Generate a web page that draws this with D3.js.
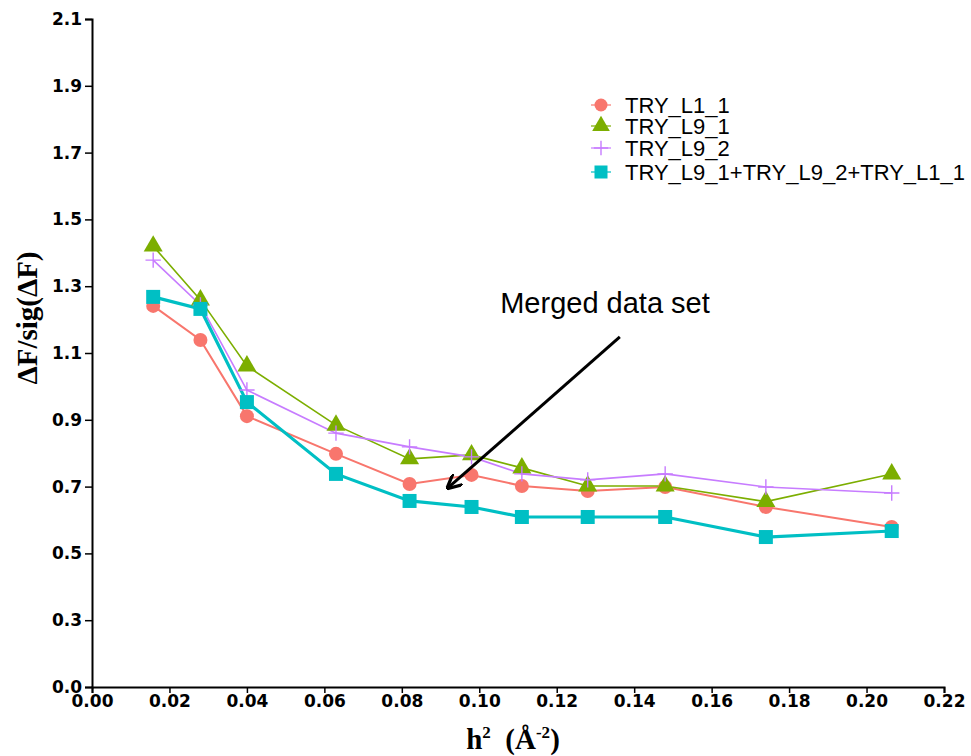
<!DOCTYPE html>
<html>
<head>
<meta charset="utf-8">
<script src="https://cdn.jsdelivr.net/npm/d3@7"></script>
<style>
    body { margin: 0; background: #fff; }
    .tick-lab { font-family: "DejaVu Sans", sans-serif; font-weight: bold; font-size: 17px; }
    .axis-title { font-family: "Liberation Serif", "Times New Roman", serif; font-weight: bold; font-size: 29px; }
    .legend-lab { font-family: Arial, "Liberation Sans", sans-serif; font-size: 22px; }
</style>
</head>
<body>
<div id="chart"></div>
<script>
// data
const h2 = [0.0158, 0.0280, 0.0400, 0.0630, 0.0820, 0.0980, 0.1110, 0.1280, 0.1480, 0.1740, 0.2065];
const tryL1_1 = [1.241, 1.139, 0.911, 0.798, 0.708, 0.735, 0.702, 0.687, 0.699, 0.639, 0.579];
const tryL9_1 = [1.420, 1.259, 1.061, 0.884, 0.783, 0.795, 0.756, 0.702, 0.702, 0.655, 0.738];
const tryL9_2 = [1.378, 1.244, 0.989, 0.860, 0.819, 0.789, 0.738, 0.720, 0.738, 0.699, 0.681];
const merged  = [1.268, 1.232, 0.953, 0.738, 0.657, 0.639, 0.609, 0.609, 0.609, 0.549, 0.567];

const seriesNames = ["TRY_L1_1", "TRY_L9_1", "TRY_L9_2", "TRY_L9_1+TRY_L9_2+TRY_L1_1"];
const xTicks = [0, 0.02, 0.04, 0.06, 0.08, 0.10, 0.12, 0.14, 0.16, 0.18, 0.20, 0.22];
const yTicks = [0.1, 0.3, 0.5, 0.7, 0.9, 1.1, 1.3, 1.5, 1.7, 1.9, 2.1];
const yTickLabels = ["0.0", "0.3", "0.5", "0.7", "0.9", "1.1", "1.3", "1.5", "1.7", "1.9", "2.1"];

// annotation arrow: [x, y] start and end in data units
const arrowFrom = [0.1363, 1.148];
const arrowTo = [0.0919, 0.696];
const arrowText = "Merged data set";

const series = [
    {name: seriesNames[0], values: tryL1_1, color: "#F8766D", width: 2, shape: "circle"},
    {name: seriesNames[1], values: tryL9_1, color: "#7CAE00", width: 1.6, shape: "triangle"},
    {name: seriesNames[2], values: tryL9_2, color: "#C77CFF", width: 1.6, shape: "plus"},
    {name: seriesNames[3], values: merged,  color: "#00BFC4", width: 3.2, shape: "square"}
];

const W = 971, H = 756;
const margin = {top: 19, right: 27, bottom: 69, left: 92};
const width = W - margin.left - margin.right;
const height = H - margin.top - margin.bottom;

const svg = d3.select("#chart").append("svg")
    .attr("width", W)
    .attr("height", H)
    .append("g")
    .attr("transform", `translate(${margin.left}, ${margin.top})`);

const x = d3.scaleLinear().domain([0, 0.22]).range([0, width]);
const y = d3.scaleLinear().domain([0.1, 2.1]).range([height, 0]);

// axes
const xAxis = d3.axisBottom(x).tickValues(xTicks).tickSize(6).tickPadding(2)
    .tickFormat(d3.format(".2f"));
const yAxis = d3.axisLeft(y).tickValues(yTicks).tickSize(7).tickPadding(3)
    .tickFormat((d, i) => yTickLabels[i]);

const gx = svg.append("g").attr("transform", `translate(0, ${height})`).call(xAxis);
const gy = svg.append("g").call(yAxis);

[gx, gy].forEach(g => {
    g.select(".domain").attr("stroke", "#000").attr("stroke-width", 2);
    g.selectAll(".tick line").attr("stroke", "#000").attr("stroke-width", 1.5);
    g.selectAll(".tick text").attr("class", "tick-lab").attr("fill", "#000");
});

// axis titles
const xt = svg.append("text")
    .attr("class", "axis-title")
    .attr("x", 421)
    .attr("y", height + 62)
    .attr("text-anchor", "middle");
xt.append("tspan").text("h");
xt.append("tspan").attr("dy", -11).attr("font-size", 17).text("2");
xt.append("tspan").attr("dy", 11).text("\u00a0 (Å");
xt.append("tspan").attr("dy", -11).attr("font-size", 17).text("-2");
xt.append("tspan").attr("dy", 11).text(")");

svg.append("text")
    .attr("class", "axis-title")
    .attr("transform", `translate(${-55}, ${318 - margin.top}) rotate(-90)`)
    .attr("text-anchor", "middle")
    .text("ΔF/sig(ΔF)");

// markers
function drawMarker(g, shape, color, size) {
    if (shape === "circle") {
        g.append("circle").attr("r", size * 0.5).attr("fill", color);
    } else if (shape === "square") {
        g.append("rect").attr("x", -size / 2).attr("y", -size / 2)
            .attr("width", size).attr("height", size).attr("fill", color);
    } else if (shape === "triangle") {
        g.append("path").attr("d", d3.symbol(d3.symbolTriangle, size * size * 0.8)).attr("fill", color);
    } else if (shape === "plus") {
        const s = size * 0.55;
        g.append("path").attr("d", `M${-s},0H${s}M0,${-s}V${s}`)
            .attr("stroke", color).attr("stroke-width", 1.4).attr("fill", "none");
    }
}

const line = d3.line().x((d, i) => x(h2[i])).y(d => y(d));

series.forEach(s => {
    svg.append("path")
        .datum(s.values)
        .attr("fill", "none")
        .attr("stroke", s.color)
        .attr("stroke-width", s.width)
        .attr("d", line);
});

series.forEach(s => {
    svg.selectAll(null)
        .data(s.values)
        .enter().append("g")
        .attr("transform", (d, i) => `translate(${x(h2[i])}, ${y(d)})`)
        .each(function () { drawMarker(d3.select(this), s.shape, s.color, 14); });
});

// legend
const legend = svg.append("g").attr("transform", `translate(${509}, ${86})`);
series.forEach((s, i) => {
    const row = legend.append("g").attr("transform", `translate(0, ${[0, 21, 43, 67][i]})`);
    row.append("line").attr("x1", -10).attr("x2", 10)
        .attr("stroke", s.color).attr("stroke-width", 1.2);
    drawMarker(row.append("g"), s.shape, s.color, 13);
    row.append("text").attr("class", "legend-lab")
        .attr("x", 24).attr("y", 8).text(s.name);
});

// arrow annotation
svg.append("defs").append("marker")
    .attr("id", "arrowhead")
    .attr("viewBox", "0 0 10 10")
    .attr("refX", 9).attr("refY", 5)
    .attr("markerWidth", 5).attr("markerHeight", 5)
    .attr("orient", "auto")
    .append("path")
    .attr("d", "M0,0L10,5L0,10")
    .attr("fill", "none").attr("stroke", "#000").attr("stroke-width", 2.2);

svg.append("line")
    .attr("x1", x(arrowFrom[0])).attr("y1", y(arrowFrom[1]))
    .attr("x2", x(arrowTo[0])).attr("y2", y(arrowTo[1]))
    .attr("stroke", "#000").attr("stroke-width", 3)
    .attr("marker-end", "url(#arrowhead)");

svg.append("text")
    .attr("x", 605 - margin.left).attr("y", 313 - margin.top)
    .attr("text-anchor", "middle")
    .style("font-family", "Arial, 'Liberation Sans', sans-serif")
    .style("font-size", "29px")
    .text(arrowText);
</script>
</body>
</html>
